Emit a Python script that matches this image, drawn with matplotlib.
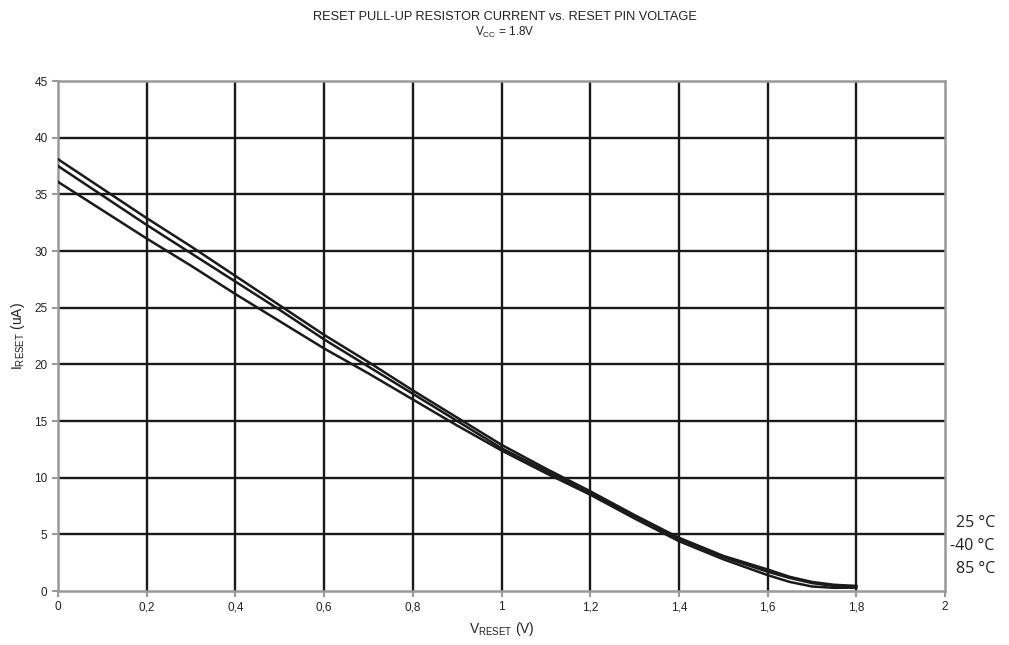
import numpy as np
import matplotlib
matplotlib.use('Agg')
import matplotlib.pyplot as plt
import matplotlib.transforms as mtrans

# reset pin voltage (V)
v_reset = [0.0, 0.1, 0.2, 0.3, 0.4, 0.5, 0.6, 0.7, 0.8, 0.9,
           1.0, 1.1, 1.2, 1.3, 1.4, 1.5, 1.6, 1.65, 1.7, 1.75, 1.8]
# pull-up current (uA) per temperature
i_25 = [38.1, 35.5, 32.9, 30.4, 27.8, 25.2, 22.6, 20.2, 17.7, 15.3,
        12.9, 10.8, 8.8, 6.7, 4.7, 3.1, 1.9, 1.25, 0.8, 0.55, 0.45]
i_m40 = [37.5, 34.9, 32.3, 29.8, 27.3, 24.8, 22.2, 19.8, 17.4, 15.0,
         12.6, 10.6, 8.6, 6.6, 4.6, 3.0, 1.7, 1.15, 0.7, 0.45, 0.4]
i_85 = [36.1, 33.6, 31.1, 28.7, 26.2, 23.8, 21.4, 19.2, 16.9, 14.6,
        12.4, 10.4, 8.5, 6.4, 4.4, 2.8, 1.4, 0.8, 0.4, 0.28, 0.3]
temp_labels = ['25 \u00b0C', '-40 \u00b0C', '85 \u00b0C']
temp_label_y = [6.0, 4.0, 1.9]

xticks = np.arange(0, 2.01, 0.2)
xticklabels = ['0', '0,2', '0,4', '0,6', '0,8', '1', '1,2', '1,4', '1,6', '1,8', '2']
yticks = np.arange(0, 46, 5)

plt.rcParams['font.family'] = ['Liberation Sans', 'DejaVu Sans']

fig = plt.figure(figsize=(10.09, 6.45), dpi=100)
ax = fig.add_axes([0.0575, 0.0837, 0.8791, 0.7907])

ax.set_xlim(0, 2)
ax.set_ylim(0, 45)
ax.set_xticks(xticks)
ax.set_xticklabels(xticklabels)
ax.set_yticks(yticks)
ax.tick_params(labelsize=8.5, colors='#999999', labelcolor='#222222', length=4, width=1.5)

# grid only at interior lines (spines are gray)
for xv in xticks[1:-1]:
    ax.axvline(xv, color='#1a1a1a', lw=1.7, zorder=1)
for yv in yticks[1:-1]:
    ax.axhline(yv, color='#1a1a1a', lw=1.7, zorder=1)
for side in ['left', 'bottom', 'right', 'top']:
    ax.spines[side].set_color('#999999')
    ax.spines[side].set_linewidth(1.8)

for ys in (i_25, i_m40, i_85):
    ax.plot(v_reset, ys, color='#1a1a1a', lw=1.8, zorder=3, solid_joinstyle='round')

ax.set_xlabel('V$_{\\mathregular{RESET}}$ (V)', fontsize=10, color='#222222', labelpad=5)
ax.set_ylabel('I$_{\\mathregular{RESET}}$ (uA)', fontsize=10, color='#222222', labelpad=5)

fig.text(0.5, 0.974, 'RESET PULL-UP RESISTOR CURRENT vs. RESET PIN VOLTAGE',
         ha='center', va='center', fontsize=9.2, color='#222222')
fig.text(0.5, 0.949, 'V$_{\\mathregular{CC}}$ = 1.8V',
         ha='center', va='center', fontsize=8.5, color='#222222')

# temperature labels in the right margin
lab_tr = mtrans.blended_transform_factory(fig.transFigure, ax.transData)
for lab, yv in zip(temp_labels, temp_label_y):
    ax.text(0.986, yv, lab, transform=lab_tr, ha='right', va='center', clip_on=False,
            fontsize=11.5, family=['Open Sans', 'DejaVu Sans'], color='#222222')

fig.savefig('out.png', dpi=100)
